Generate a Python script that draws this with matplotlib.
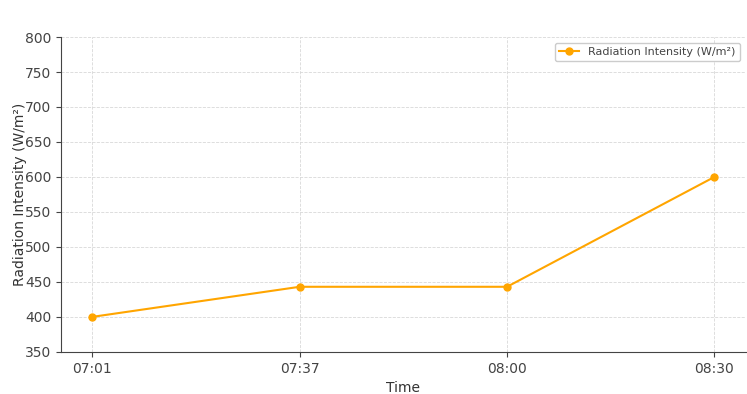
import matplotlib
matplotlib.use("Agg")
import matplotlib.pyplot as plt

times = ["07:01", "07:37", "08:00", "08:30"]
radiation = [400, 443, 443, 600]

fig, ax = plt.subplots(figsize=(7.47, 3.94), dpi=100)
ax.plot(times, radiation, marker="o", color="orange", linewidth=1.5,
        markersize=5, label="Radiation Intensity (W/m²)")

ax.set_ylim(350, 800)
ax.set_xlabel("Time", color="#333333")
ax.set_ylabel("Radiation Intensity (W/m²)", color="#333333", labelpad=-1)
ax.tick_params(colors="#444444", labelsize=10)
ax.grid(True, linestyle="--", linewidth=0.6, color="#d8d8d8")
for side in ["top", "right"]:
    ax.spines[side].set_visible(False)
for side in ["left", "bottom"]:
    ax.spines[side].set_color("#444444")

leg = ax.legend(loc="upper right", fontsize=8, framealpha=1,
                handlelength=1.8)
for t in leg.get_texts():
    t.set_color("#444444")

fig.subplots_adjust(left=0.082, right=0.998, top=0.906, bottom=0.107)
fig.savefig("out.png")
